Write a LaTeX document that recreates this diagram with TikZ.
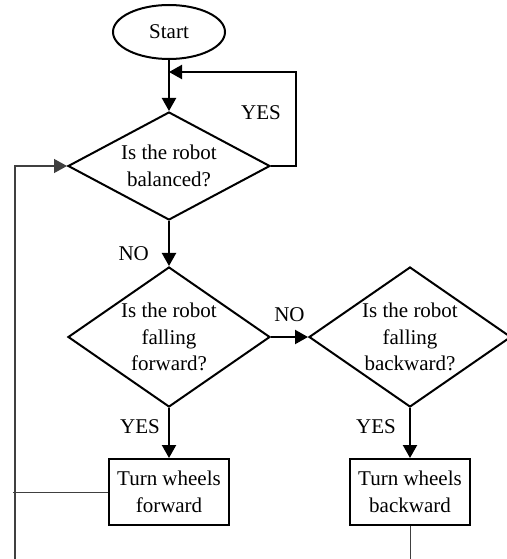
\documentclass[tikz,border=0pt]{standalone}
\usepackage{fontspec}
\setmainfont{Liberation Serif}
\usetikzlibrary{positioning,shapes.geometric,arrows.meta}
\newcommand{\fcfont}{\fontsize{21pt}{26.7pt}\selectfont}
\tikzset{every picture/.style={line width=2pt}}
\tikzset{
  fcstart/.style ={ellipse, draw=black, minimum width=112pt, minimum height=54pt,
                   inner sep=0pt, font=\fcfont},
  fcdec/.style   ={diamond, draw=black, aspect=1.44, inner sep=0pt,
                   minimum width=202pt, minimum height=140pt, align=center, font=\fcfont},
  fcact/.style   ={rectangle, draw=black, minimum width=120pt, minimum height=66pt,
                   inner sep=0pt, align=center, font=\fcfont},
  fctip/.style   ={-{Triangle[length=13pt,width=14pt]}},
  fcedge/.style  ={fctip, line width=2.2pt},
  fcback/.style  ={line width=1.4pt, black!75},
  fcthin/.style  ={line width=0.8pt, black!75},
  fclbl/.style   ={font=\fcfont, inner sep=0pt},
}

\begin{document}
\begin{tikzpicture}
        \useasboundingbox (0,0) rectangle (506pt,-559pt);
        % start and balance test
        \node[fcstart] (start) at (169pt,-32pt) {Start};
        \node[fcdec, aspect=2, minimum height=108pt, below=51pt of start] (bal) {Is the robot\\balanced?};
        \coordinate (join) at (169pt,-72pt);
        \draw[fcedge] (start) -- (bal);
        \draw[fcedge] (bal.east) -- ++(25pt,0) |- (join);
        \node[fclbl] (yes0) at (261pt,-113pt) {YES};
        % falling tests
        \node[fcdec, below=45pt of bal] (fwd) {Is the robot\\falling\\forward?};
        \node[fcdec, right=37pt of fwd] (bwd) {Is the robot\\falling\\backward?};
        \draw[fcedge] (bal) -- (fwd) node[fclbl, pos=0.73, left=19pt] {NO};
        \draw[fcedge] (fwd) -- (bwd) node[fclbl, midway, above=14pt] {NO};
        % actions
        \node[fcact, below=50pt of fwd] (turnf) {Turn wheels\\forward\vphantom{\rule{0pt}{8pt}}};
        \node[fcact, below=50pt of bwd] (turnb) {Turn wheels\\backward\vphantom{\rule{0pt}{8pt}}};
        \draw[fcedge] (fwd) -- (turnf) node[fclbl, pos=0.37, left=8pt] {YES};
        \draw[fcedge] (bwd) -- (turnb) node[fclbl, pos=0.37, left=13pt] {YES};
        % feedback lines
        \coordinate (fwdend) at (turnf.west -| 13pt,0);
        \coordinate (loopbot) at (15pt,-559pt);
        \coordinate (bwdend) at (turnb.south |- 0,-559pt);
        \draw[fcthin] (turnf.west) -- (fwdend);
        \draw[fcback, fctip] (loopbot) |- (bal.west);
        \draw[fcthin] (turnb) -- (bwdend);
    \end{tikzpicture}
\end{document}
